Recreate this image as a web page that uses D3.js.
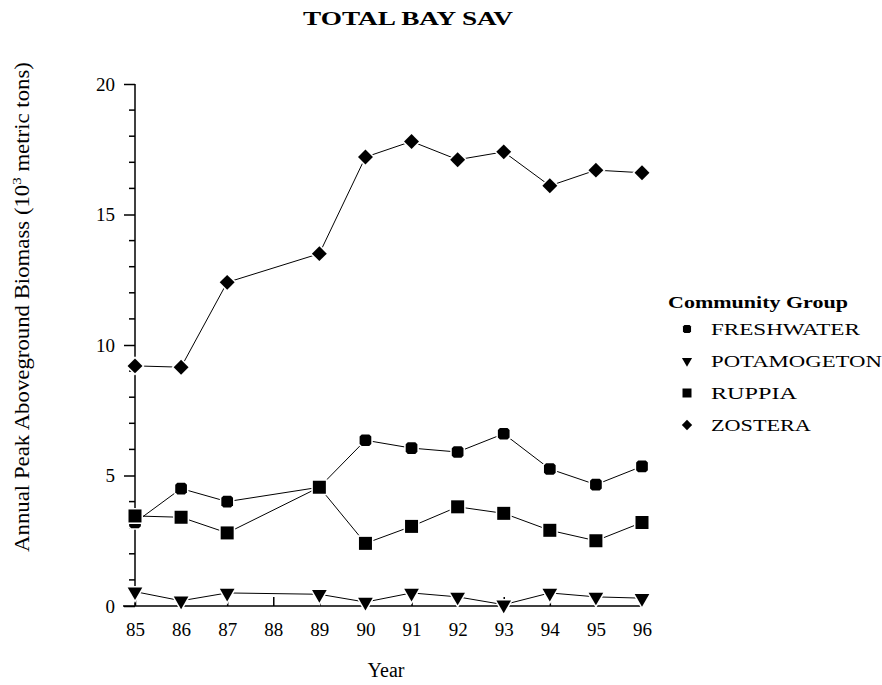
<html><head>
<meta charset="utf-8">
<title>TOTAL BAY SAV</title>
<script type="text/javascript" src="https://d3js.org/d3.v7.min.js"></script>
<style>
body { margin: 0; background: #fff; }
</style>
</head>
<body>
<div id="chart"></div>
<script>

// data (biomass, 10^3 metric tons)
var years = [85, 86, 87, 89, 90, 91, 92, 93, 94, 95, 96];
var freshwater  = [3.2, 4.5, 4.0, 4.55, 6.35, 6.05, 5.9, 6.6, 5.25, 4.65, 5.35];
var potamogeton = [0.55, 0.2, 0.5, 0.45, 0.15, 0.5, 0.35, 0.05, 0.5, 0.35, 0.3];
var ruppia      = [3.45, 3.4, 2.8, 4.55, 2.4, 3.05, 3.8, 3.55, 2.9, 2.5, 3.2];
var zostera     = [9.2, 9.15, 12.4, 13.5, 17.2, 17.8, 17.1, 17.4, 16.1, 16.7, 16.6];
var xTicks = [85, 86, 87, 88, 89, 90, 91, 92, 93, 94, 95, 96];
var yTicks = [0, 5, 10, 15, 20];

var groups = [
  {name: "FRESHWATER", values: freshwater, shape: "blob"},
  {name: "POTAMOGETON", values: potamogeton, shape: "tri"},
  {name: "RUPPIA", values: ruppia, shape: "square"},
  {name: "ZOSTERA", values: zostera, shape: "diamond"}
];

var serif = "'Liberation Serif', 'DejaVu Serif', serif";
var W = 882, H = 685;
var svg = d3.select("#chart").append("svg")
    .attr("width", W)
    .attr("height", H);

// stretch a text horizontally to a wanted width (the old chart font is wide)
function widen(sel, w) {
  var n = sel.node().getComputedTextLength();
  sel.attr("transform", (sel.attr("transform") || "") + " scale(" + (w / n) + ",1)");
}

// scales
var x = d3.scaleLinear().domain([85, 96]).range([135, 642]);
var y = d3.scaleLinear().domain([0, 20]).range([606, 84]);

// marker paths
function markerPath(shape, s) {
  if (shape == "tri") return d3.symbol().type(d3.symbolTriangle).size(s * s * 0.55)();
  if (shape == "diamond") return d3.symbol().type(d3.symbolSquare).size(s * s * 0.66)();
  if (shape == "square") return d3.symbol().type(d3.symbolSquare).size(s * s)();
  // freshwater: a square with clipped corners
  var h = s * 0.45, c = s * 0.16;
  return "M" + (-h + c) + "," + (-h) + "H" + (h - c) + "L" + h + "," + (-h + c) +
         "V" + (h - c) + "L" + (h - c) + "," + h + "H" + (-h + c) + "L" + (-h) + "," + (h - c) +
         "V" + (-h + c) + "Z";
}
function markerTransform(shape) {
  if (shape == "tri") return " rotate(180)";
  if (shape == "diamond") return " rotate(45)";
  return "";
}

// y axis
var yAxis = d3.axisLeft(y).tickValues(yTicks).tickSize(11).tickPadding(9);
var gy = svg.append("g").attr("transform", "translate(" + x(85) + ",0)").call(yAxis);
gy.select(".domain").attr("d", "M0," + y(20) + "V" + y(0)).attr("stroke-width", 1.5);
gy.selectAll(".tick line").attr("stroke-width", 1.5);
gy.selectAll(".tick text").style("font-size", "19px").style("font-family", serif);

// minor y ticks
var minor = d3.range(0, 21).filter(function(v) { return v % 5 != 0; });
svg.append("g").selectAll("line").data(minor).enter().append("line")
    .attr("x1", x(85) - 6).attr("x2", x(85))
    .attr("y1", function(d) { return y(d); })
    .attr("y2", function(d) { return y(d); })
    .attr("stroke", "#000").attr("stroke-width", 1.5);

// x axis, ticks pointing up
var xAxis = d3.axisBottom(x).tickValues(xTicks).tickSize(-9).tickPadding(17)
    .tickFormat(d3.format("d"));
var gx = svg.append("g").attr("transform", "translate(0," + y(0) + ")").call(xAxis);
gx.select(".domain").attr("d", "M" + (x(85) - 12) + ",0H" + x(96)).attr("stroke-width", 1.5);
gx.selectAll(".tick line").attr("stroke-width", 1.5);
gx.selectAll(".tick text").style("font-size", "19px").style("font-family", serif);

// lines + markers
var line = d3.line()
    .x(function(d, i) { return x(years[i]); })
    .y(function(d) { return y(d); });

groups.forEach(function(g) {
  svg.append("path")
      .datum(g.values)
      .attr("fill", "none")
      .attr("stroke", "#000")
      .attr("stroke-width", 1)
      .attr("d", line);
});
groups.forEach(function(g) {
  svg.append("g").selectAll("path").data(g.values).enter().append("path")
      .attr("d", markerPath(g.shape, 13))
      .attr("transform", function(d, i) {
        return "translate(" + x(years[i]) + "," + y(d) + ")" + markerTransform(g.shape);
      })
      .attr("fill", "#000")
      .attr("stroke", "#fff")
      .attr("stroke-width", 3)
      .style("paint-order", "stroke");
});

// title
var title = svg.append("text")
    .attr("transform", "translate(408,25)")
    .attr("text-anchor", "middle")
    .style("font-family", serif)
    .style("font-size", "19px").style("font-weight", "bold")
    .text("TOTAL BAY SAV");
widen(title, 210);

// y label
var yl = svg.append("text")
    .attr("transform", "translate(29,307) rotate(-90)")
    .attr("text-anchor", "middle")
    .style("font-family", serif)
    .style("font-size", "20px");
yl.append("tspan").text("Annual Peak Aboveground Biomass (10");
yl.append("tspan").attr("dy", -8).style("font-size", "13px").text("3");
yl.append("tspan").attr("dy", 8).text(" metric tons)");
widen(yl, 490);

// x label
svg.append("text")
    .attr("x", 386).attr("y", 677)
    .attr("text-anchor", "middle")
    .style("font-family", serif)
    .style("font-size", "20px")
    .text("Year");

// legend
var lg = svg.append("g").attr("transform", "translate(668,308)");
var lt = lg.append("text")
    .style("font-family", serif)
    .style("font-size", "17px").style("font-weight", "bold")
    .text("Community Group");
widen(lt, 180);
var legendW = [149, 171, 86, 100];
groups.forEach(function(g, i) {
  var row = lg.append("g").attr("transform", "translate(0," + (21 + i * 32) + ")");
  row.append("path")
      .attr("d", markerPath(g.shape, 9))
      .attr("transform", "translate(19,0)" + markerTransform(g.shape))
      .attr("fill", "#000");
  var t = row.append("text")
      .attr("transform", "translate(43,6)")
      .style("font-family", serif)
      .style("font-size", "17px")
      .text(g.name);
  widen(t, legendW[i]);
});

</script>
</body></html>
